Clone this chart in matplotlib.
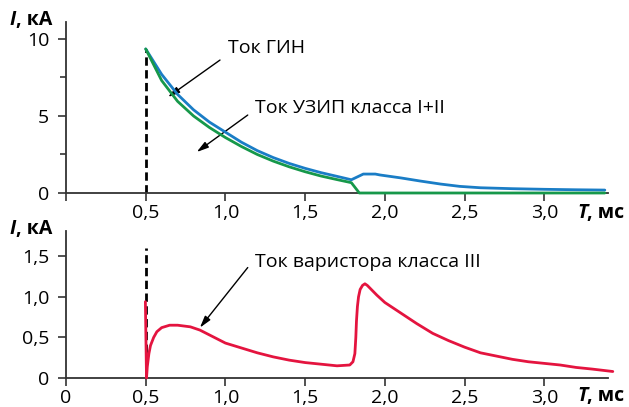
import numpy as np
import matplotlib.pyplot as plt

plt.rcParams['font.family'] = ['Open Sans', 'DejaVu Sans']

# ток ГИН (верхний график)
t_gin = [0.5, 0.6, 0.7, 0.8, 0.9, 1.0, 1.1, 1.2, 1.3, 1.4, 1.5, 1.6, 1.7, 1.79,
         1.865, 1.94, 1.97, 2.1, 2.22, 2.35, 2.47, 2.6, 2.8, 3.0, 3.2, 3.38]
i_gin = [9.35, 7.7, 6.4, 5.4, 4.6, 3.95, 3.3, 2.75, 2.3, 1.92, 1.6, 1.32, 1.08, 0.86,
         1.23, 1.23, 1.17, 0.98, 0.78, 0.58, 0.43, 0.34, 0.28, 0.24, 0.21, 0.19]

# ток УЗИП класса I+II
t_uzip = [0.5, 0.6, 0.7, 0.8, 0.9, 1.0, 1.1, 1.2, 1.3, 1.4, 1.5, 1.6, 1.7, 1.79,
          1.84, 3.38]
i_uzip = [9.35, 7.3, 5.95, 5.0, 4.25, 3.6, 3.02, 2.5, 2.07, 1.7, 1.38, 1.1, 0.87, 0.67,
          0.0, 0.0]

# ток варистора класса III (нижний график)
t_var = [0.498, 0.505, 0.51, 0.52, 0.53, 0.55, 0.57, 0.6, 0.65, 0.7, 0.78, 0.84,
         0.92, 1.0, 1.1, 1.2, 1.3, 1.4, 1.5, 1.6, 1.7, 1.78, 1.8, 1.812, 1.818,
         1.822, 1.828, 1.835, 1.845, 1.86, 1.875, 1.89, 1.91, 1.95, 2.0, 2.1, 2.2,
         2.3, 2.4, 2.5, 2.6, 2.7, 2.8, 2.9, 3.0, 3.1, 3.2, 3.3, 3.43]
i_var = [0.94, 0.0, 0.14, 0.30, 0.40, 0.50, 0.57, 0.62, 0.65, 0.65, 0.63, 0.59,
         0.51, 0.43, 0.37, 0.31, 0.26, 0.22, 0.19, 0.17, 0.15, 0.16, 0.20, 0.30, 0.50,
         0.70, 0.88, 1.0, 1.09, 1.14, 1.16, 1.14, 1.10, 1.02, 0.93, 0.80, 0.67,
         0.55, 0.46, 0.38, 0.31, 0.27, 0.23, 0.20, 0.18, 0.16, 0.13, 0.11, 0.08]

x_ticks = [0.5, 1.0, 1.5, 2.0, 2.5, 3.0]
x_labels = ['0,5', '1,0', '1,5', '2,0', '2,5', '3,0']
y1_ticks = [0, 5, 10]
y1_labels = ['0', '5', '10']
y2_ticks = [0, 0.5, 1.0, 1.5]
y2_labels = ['0', '0,5', '1,0', '1,5']

c_blue = '#1a7dc6'
c_green = '#16984a'
c_red = '#e4143f'
c_axis = '#333333'
fs = 14

W, H = 629, 407
fig = plt.figure(figsize=(W / 100, H / 100), dpi=100)

def px(x, y):
    return x / W, 1 - y / H

ax1 = fig.add_axes([66 / W, 1 - 193 / H, (616 - 66) / W, (193 - 22) / H])
ax2 = fig.add_axes([66 / W, 1 - 378 / H, (616 - 66) / W, (378 - 231) / H])

for ax in (ax1, ax2):
    for s in ('top', 'right'):
        ax.spines[s].set_visible(False)
    for s in ('left', 'bottom'):
        ax.spines[s].set_color(c_axis)
        ax.spines[s].set_linewidth(1.3)
    ax.set_xlim(0, 3.45)
    ax.spines['bottom'].set_bounds(0, 3.40)
    ax.tick_params(direction='out', length=6, width=1.2, color=c_axis,
                   labelsize=fs, pad=2)
    ax.tick_params(axis='y', pad=6)
    ax.patch.set_alpha(0)

dash = (0, (3, 1.6))
line_kw = dict(lw=2, clip_on=False, solid_joinstyle='round', solid_capstyle='round')

# верхний график
ax1.set_ylim(0, 11.1)
ax1.set_xticks([0] + x_ticks)
ax1.set_xticklabels([''] + x_labels)
ax1.set_yticks(y1_ticks)
ax1.set_yticklabels(y1_labels)
ax1.set_yticks([2.5, 7.5], minor=True)
ax1.tick_params(axis='y', which='minor', length=4, width=1.2, color=c_axis)

ax1.plot([0.5, 0.5], [0, 9.35], color='black', lw=2, ls=dash, zorder=2)
ax1.plot(t_gin, i_gin, color=c_blue, zorder=4, **line_kw)
ax1.plot(t_uzip, i_uzip, color=c_green, zorder=5, **line_kw)

arrow = dict(arrowstyle='-|>,head_length=0.7,head_width=0.2', color='black',
             lw=1, shrinkA=0, shrinkB=0)
ax1.annotate('', xy=(0.64, 6.23), xytext=(0.966, 8.63), arrowprops=arrow)
ax1.annotate('', xy=(0.82, 2.66), xytext=(1.14, 5.06), arrowprops=arrow)
ax1.text(1.016, 9.42, 'Ток ГИН', fontsize=fs, va='center', ha='left')
ax1.text(1.185, 5.52, 'Ток УЗИП класса I+II', fontsize=fs, va='center', ha='left')

# нижний график
ax2.set_ylim(0, 1.81)
ax2.set_xticks([0] + x_ticks)
ax2.set_xticklabels(['0'] + x_labels)
ax2.set_yticks(y2_ticks)
ax2.set_yticklabels(y2_labels)

ax2.plot([0.5, 0.5], [0, 1.6], color='black', lw=2, ls=dash, zorder=2)
ax2.plot(t_var, i_var, color=c_red, zorder=4, **line_kw)
ax2.annotate('', xy=(0.84, 0.62), xytext=(1.14, 1.36), arrowprops=arrow)
ax2.text(1.185, 1.43, 'Ток варистора класса III', fontsize=fs, va='center', ha='left')

# подписи осей
def axis_label(x, y, letter, rest):
    t = fig.text(*px(x, y), letter, fontsize=fs, fontweight='bold',
                 fontstyle='italic', va='center', ha='left')
    ax1.annotate(rest, xy=(1, 0), xycoords=t, fontsize=fs, fontweight='bold',
                 va='bottom', ha='left', annotation_clip=False)

axis_label(10, 20, 'I', ', кА')
axis_label(10, 229, 'I', ', кА')
axis_label(577, 213, 'T', ', мс')
axis_label(577, 396, 'T', ', мс')

fig.savefig('out.png', dpi=100)
